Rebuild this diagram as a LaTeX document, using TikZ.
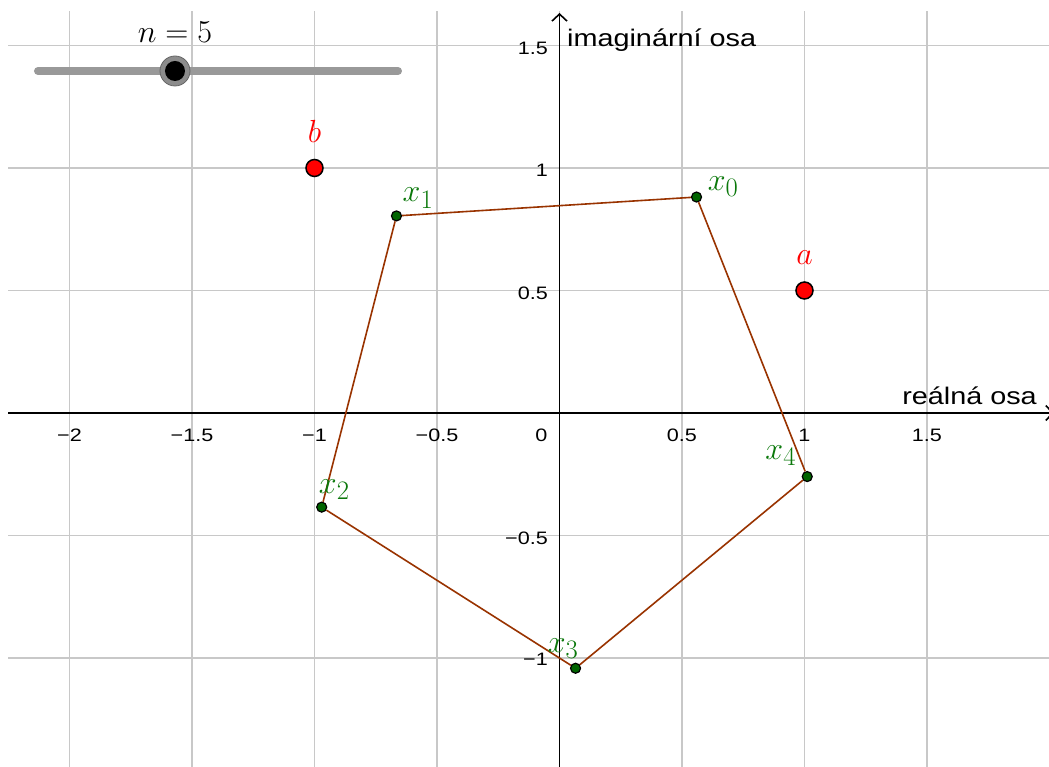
\documentclass[tikz,border=0pt]{standalone}
\usepackage{fontspec}
\usepackage{xcolor}
\usepackage{tikz}
\usetikzlibrary{arrows.meta}
\newfontfamily\geofont[FakeStretch=1.2]{Liberation Sans}
\definecolor{gridgray}{HTML}{C8C8C8}
\definecolor{edgebrown}{HTML}{993300}
\definecolor{rootgreen}{HTML}{006400}
\definecolor{lblgreen}{HTML}{0A780A}
\definecolor{givenred}{HTML}{FF0000}
\definecolor{trackgray}{HTML}{999999}
\tikzset{
  gridline/.style={draw=gridgray,line width=1.8pt},
  axisarr/.style={-{Straight Barb[length=7pt,width=15pt]},line width=1.6pt,color=black},
  edgeline/.style={line width=1.6pt,color=edgebrown},
  rootdot/.style={circle,draw=black,line width=1.2pt,fill=rootgreen,
    minimum size=10pt,inner sep=0pt},
  givendot/.style={circle,draw=black,line width=1.5pt,fill=givenred,
    minimum size=17pt,inner sep=0pt},
  rootlbl/.style={font=\Huge,scale=1.286,text=lblgreen,
    anchor=base west,inner sep=0pt},
  givenlbl/.style={font=\Huge,scale=1.286,text=givenred,
    anchor=base,inner sep=0pt},
  ticklbl/.style={font=\geofont\fontsize{18}{22}\selectfont,inner sep=0pt},
  axislbl/.style={font=\geofont\fontsize{24}{29}\selectfont,inner sep=0pt},
  slidertrack/.style={line width=8pt,line cap=round,color=trackgray},
  knobhalo/.style={circle,fill=black!45,draw=black!60,line width=0.8pt,
    minimum size=30pt,inner sep=0pt},
  knobcore/.style={circle,fill=black,minimum size=20pt,inner sep=0pt},
}

\begin{document}
\begin{tikzpicture}[x=245pt, y=245pt]
  \useasboundingbox (-2.2837,-1.4449) rectangle (1.9980,1.6857);
  \fill[white] (-2.2837,-1.4449) rectangle (1.9980,1.6857);

  % grid and axes
  \draw[gridline,step=0.5] (-2.251,-1.4449) grid (2.01,1.641);
  \draw[axisarr] (-2.251,0) -- (2.018,0);
  \draw[axisarr] (0,-1.4449) -- (0,1.6327);
  \node[axislbl, anchor=base east] (reax) at (1.949,0.0327) {reálná osa};
  \node[axislbl, anchor=base west] (imax) at (0.0306,1.4939) {imaginární osa};

  % tick labels
  \node[ticklbl, anchor=base] (tx1) at (-2,-0.1184) {−2};
  \node[ticklbl, anchor=base] (tx2) at (-1.5,-0.1184) {−1.5};
  \node[ticklbl, anchor=base] (tx3) at (-1,-0.1184) {−1};
  \node[ticklbl, anchor=base] (tx4) at (-0.5,-0.1184) {−0.5};
  \node[ticklbl, anchor=base] (tx5) at (-0.0735,-0.1184) {0};
  \node[ticklbl, anchor=base] (tx6) at (0.5,-0.1184) {0.5};
  \node[ticklbl, anchor=base] (tx7) at (1,-0.1184) {1};
  \node[ticklbl, anchor=base] (tx8) at (1.5,-0.1184) {1.5};
  \node[ticklbl, anchor=east] (ty1) at (-0.047,1.49) {1.5};
  \node[ticklbl, anchor=east] (ty2) at (-0.047,0.99) {1};
  \node[ticklbl, anchor=east] (ty3) at (-0.047,0.49) {0.5};
  \node[ticklbl, anchor=east] (ty4) at (-0.047,-0.51) {−0.5};
  \node[ticklbl, anchor=east] (ty5) at (-0.047,-1.005) {−1};

  % slider
  \draw[slidertrack] (-2.1286,1.3959) -- (-0.6592,1.3959);
  \node[knobhalo] (knob) at (-1.5694,1.3959) {};
  \node[knobcore] (knobc) at (knob) {};
  \node[givenlbl, text=black] (nlbl) at (-1.5694,1.5102) {$n=5$};

  % given points
  \node[givendot] (a) at (1,0.5) {};
  \node[givendot] (b) at (-1,1) {};
  \node[yshift=26pt, givenlbl] (la) at (a) {$a$};
  \node[yshift=25pt, givenlbl] (lb) at (b) {$b$};

  % roots
  \node[rootdot] (x0) at (57.6:1.044) {};
  \node[rootdot] (x1) at (129.6:1.044) {};
  \node[rootdot] (x2) at (201.6:1.044) {};
  \node[rootdot] (x3) at (273.6:1.044) {};
  \node[rootdot] (x4) at (345.6:1.044) {};
  \draw[edgeline] (x0) -- (x1);
  \draw[edgeline] (x1) -- (x2);
  \draw[edgeline] (x2) -- (x3);
  \draw[edgeline] (x3) -- (x4);
  \draw[edgeline] (x4) -- (x0);
  \node[xshift=11pt, yshift=7pt, rootlbl] (l0) at (x0) {$x_0$};
  \node[xshift=6pt, yshift=14pt, rootlbl] (l1) at (x1) {$x_1$};
  \node[xshift=-3pt, yshift=14pt, rootlbl] (l2) at (x2) {$x_2$};
  \node[xshift=-28pt, yshift=16pt, rootlbl] (l3) at (x3) {$x_3$};
  \node[xshift=-42pt, yshift=17pt, rootlbl] (l4) at (x4) {$x_4$};
\end{tikzpicture}
\end{document}
